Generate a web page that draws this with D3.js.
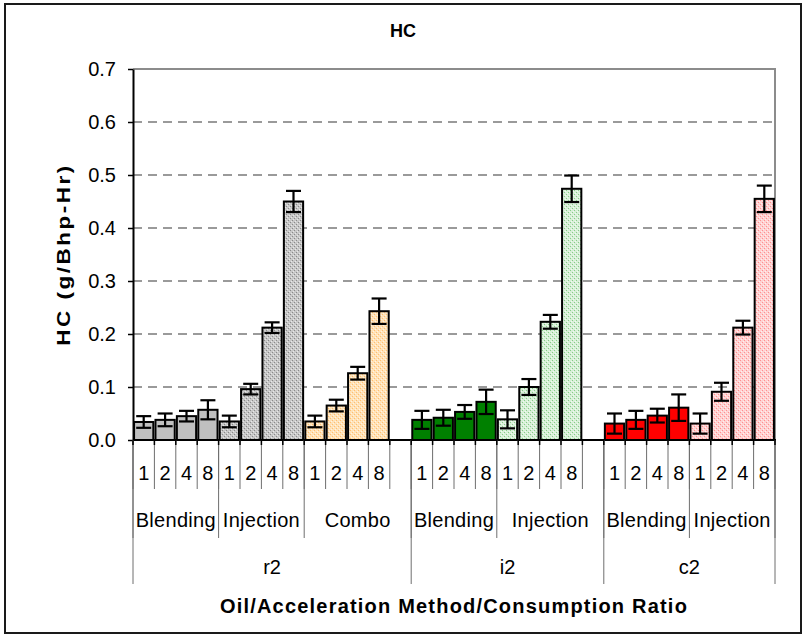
<!DOCTYPE html>
<html>
<head>
<meta charset="utf-8">
<script src="https://cdn.jsdelivr.net/npm/d3@7"></script>
<style>
  body { margin: 0; background: #fff; }
  text { font-family: Arial, "Liberation Sans", sans-serif; }
</style>
</head>
<body>
<svg id="chart" width="804" height="636"></svg>
<script>
// Values (HC in g/Bhp-Hr)
const oils = ["r2", "i2", "c2"]
const groupOil = ["r2", "r2", "r2", "i2", "i2", "c2", "c2"]
const groupMethod = ["Blending", "Injection", "Combo", "Blending", "Injection", "Blending", "Injection"]
const ratios = ["1", "2", "4", "8"]
// Excel left an empty category after these groups
const blankGroups = ["r2|Combo", "i2|Injection"]
const hcMean = [
  [0.034, 0.038, 0.045, 0.057],
  [0.035, 0.096, 0.212, 0.450],
  [0.035, 0.065, 0.126, 0.243],
  [0.038, 0.042, 0.053, 0.072],
  [0.039, 0.100, 0.223, 0.474],
  [0.031, 0.038, 0.046, 0.061],
  [0.031, 0.091, 0.212, 0.455]
]
const hcErr = [
  [0.011, 0.012, 0.010, 0.018],
  [0.011, 0.010, 0.010, 0.020],
  [0.011, 0.011, 0.012, 0.024],
  [0.017, 0.015, 0.013, 0.023],
  [0.017, 0.015, 0.013, 0.025],
  [0.019, 0.017, 0.013, 0.025],
  [0.019, 0.017, 0.013, 0.025]
]
const yTicks = [0, 0.1, 0.2, 0.3, 0.4, 0.5, 0.6, 0.7]

const groupFill = ["#c0c0c0", "url(#dotGray)", "url(#dotPeach)", "#008000", "url(#dotGreen)", "#ff0000", "url(#dotPink)"]

const svg = d3.select("#chart")
const plotLeft = 133, plotRight = 775, plotTop = 69, plotBottom = 440

// build category list (with the blank slots)
const cats = []
groupMethod.forEach((m, g) => {
  ratios.forEach((r, i) => cats.push({key: g + "-" + r, g: g, ratio: r, v: hcMean[g][i], e: hcErr[g][i]}))
  if (blankGroups.includes(groupOil[g] + "|" + m)) cats.push({key: g + "-blank", g: g, ratio: "", v: null})
})

const x = d3.scaleBand()
  .domain(cats.map(d => d.key))
  .range([plotLeft, plotRight])
  .paddingInner(0.1)
  .paddingOuter(0.05)
const step = x.step()
const slotLeft = key => x(key) - step * x.paddingInner() / 2

const y = d3.scaleLinear().domain([0, 0.7]).range([plotBottom, plotTop])

// patterns for the injection / combo bars
const defs = svg.append("defs")
const patterns = [
  {id: "dotGray", bg: "#c8c8c8", dot: "#8a8a8a", hi: "#e8e8e8"},
  {id: "dotPeach", bg: "#ffe2b8", dot: "#ffbf70", hi: "#fff4e4"},
  {id: "dotGreen", bg: "#d8f0d8", dot: "#88cc88", hi: "#f2fbf2"},
  {id: "dotPink", bg: "#ffd2d2", dot: "#ff9090", hi: "#fff0f0"}
]
patterns.forEach(p => {
  const pat = defs.append("pattern").attr("id", p.id)
    .attr("patternUnits", "userSpaceOnUse").attr("width", 4).attr("height", 4)
  pat.append("rect").attr("width", 4).attr("height", 4).attr("fill", p.bg)
  pat.append("rect").attr("x", 0).attr("y", 0).attr("width", 1).attr("height", 1).attr("fill", p.dot)
  pat.append("rect").attr("x", 2).attr("y", 2).attr("width", 1).attr("height", 1).attr("fill", p.dot)
  pat.append("rect").attr("x", 1).attr("y", 3).attr("width", 1).attr("height", 1).attr("fill", p.hi)
  pat.append("rect").attr("x", 3).attr("y", 1).attr("width", 1).attr("height", 1).attr("fill", p.hi)
})

// outer chart frame
svg.append("rect")
  .attr("x", 5).attr("y", 4).attr("width", 796).attr("height", 629)
  .attr("fill", "#fff").attr("stroke", "#1a1a1a").attr("stroke-width", 2)

// title
svg.append("text")
  .attr("x", 403).attr("y", 37)
  .attr("text-anchor", "middle")
  .style("font-size", "18px").style("font-weight", "bold")
  .text("HC")

// dashed gridlines
svg.append("g")
  .selectAll("line")
  .data(yTicks.filter(t => t > 0 && t < 0.7))
  .join("line")
  .attr("x1", plotLeft).attr("x2", plotRight)
  .attr("y1", d => y(d)).attr("y2", d => y(d))
  .attr("stroke", "#7a7a7a").attr("stroke-width", 1.5)
  .attr("stroke-dasharray", "9,6")

// plot border (top and right)
svg.append("path")
  .attr("d", `M${plotLeft},${plotTop}H${plotRight}V${plotBottom}`)
  .attr("fill", "none").attr("stroke", "#8c8c8c").attr("stroke-width", 2)

// bars
const bars = cats.filter(d => d.v !== null)
svg.append("g")
  .selectAll("rect")
  .data(bars)
  .join("rect")
  .attr("x", d => x(d.key))
  .attr("width", x.bandwidth())
  .attr("y", d => y(d.v))
  .attr("height", d => y(0) - y(d.v))
  .attr("fill", d => groupFill[d.g])
  .attr("stroke", "#000").attr("stroke-width", 2)

// error bars
const eb = svg.append("g").attr("stroke", "#000").attr("stroke-width", 2.2)
eb.selectAll("line.v")
  .data(bars)
  .join("line").attr("class", "v")
  .attr("x1", d => x(d.key) + x.bandwidth() / 2).attr("x2", d => x(d.key) + x.bandwidth() / 2)
  .attr("y1", d => y(d.v + d.e)).attr("y2", d => y(d.v - d.e))
eb.selectAll("line.cap")
  .data(bars.flatMap(d => [{d: d, v: d.v + d.e}, {d: d, v: d.v - d.e}]))
  .join("line").attr("class", "cap")
  .attr("x1", c => x(c.d.key) + x.bandwidth() / 2 - 7.5).attr("x2", c => x(c.d.key) + x.bandwidth() / 2 + 7.5)
  .attr("y1", c => y(c.v)).attr("y2", c => y(c.v))

// y axis
const yAxis = svg.append("g")
  .attr("transform", `translate(${plotLeft},0)`)
  .call(d3.axisLeft(y).tickValues(yTicks).tickFormat(d3.format(".1f")).tickSize(5).tickSizeOuter(0))
yAxis.select(".domain").attr("stroke", "#000").attr("stroke-width", 2)
yAxis.selectAll(".tick line").attr("stroke", "#000").attr("stroke-width", 1.5)
yAxis.selectAll(".tick text")
  .attr("x", -17)
  .style("font-size", "20px").style("font-family", "Arial, 'Liberation Sans', sans-serif")
  .attr("fill", "#000")

// y axis title
svg.append("text")
  .attr("transform", `translate(70,${(plotTop + plotBottom) / 2}) rotate(-90) scale(1.25,1)`)
  .attr("text-anchor", "middle")
  .style("font-size", "18px").style("font-weight", "bold")
  .style("letter-spacing", "2px")
  .text("HC (g/Bhp-Hr)")

// x baseline
svg.append("line")
  .attr("x1", plotLeft).attr("x2", plotRight + 1)
  .attr("y1", plotBottom).attr("y2", plotBottom)
  .attr("stroke", "#000").attr("stroke-width", 2)

// multi-level category axis
const lvl1Bottom = 489, lvl2Bottom = 538, lvl3Bottom = 584
const sepColor = "#6e6e6e"
const axisG = svg.append("g")

// separators between every slot
const boundaries = cats.map(d => slotLeft(d.key)).concat([plotRight])
axisG.selectAll("line.s1")
  .data(boundaries)
  .join("line").attr("class", "s1")
  .attr("x1", d => d).attr("x2", d => d)
  .attr("y1", plotBottom).attr("y2", lvl1Bottom)
  .attr("stroke", sepColor).attr("stroke-width", 1)

// method group extents
const groups = groupMethod.map((m, g) => {
  const keys = cats.filter(c => c.g === g).map(c => c.key)
  return {g: g, label: m, oil: groupOil[g], x0: slotLeft(keys[0]), x1: slotLeft(keys[keys.length - 1]) + step}
})
axisG.selectAll("line.s2")
  .data(groups.map(d => d.x0).concat([plotRight]))
  .join("line").attr("class", "s2")
  .attr("x1", d => d).attr("x2", d => d)
  .attr("y1", plotBottom).attr("y2", lvl2Bottom)
  .attr("stroke", sepColor).attr("stroke-width", 1)

// oil extents
const oilSpans = oils.map(o => {
  const gs = groups.filter(d => d.oil === o)
  return {label: o, x0: gs[0].x0, x1: gs[gs.length - 1].x1}
})
axisG.selectAll("line.s3")
  .data(oilSpans.map(d => d.x0).concat([plotRight]))
  .join("line").attr("class", "s3")
  .attr("x1", d => d).attr("x2", d => d)
  .attr("y1", plotBottom).attr("y2", lvl3Bottom)
  .attr("stroke", sepColor).attr("stroke-width", 1)

// small black ticks under baseline
axisG.selectAll("line.t")
  .data(boundaries)
  .join("line").attr("class", "t")
  .attr("x1", d => d).attr("x2", d => d)
  .attr("y1", plotBottom).attr("y2", plotBottom + 5)
  .attr("stroke", "#000").attr("stroke-width", 1.5)

axisG.selectAll("text.r")
  .data(cats.filter(d => d.ratio !== ""))
  .join("text").attr("class", "r")
  .attr("x", d => x(d.key) + x.bandwidth() / 2)
  .attr("y", 480)
  .attr("text-anchor", "middle")
  .style("font-size", "20px")
  .text(d => d.ratio)

axisG.selectAll("text.m")
  .data(groups)
  .join("text").attr("class", "m")
  .attr("x", d => (d.x0 + d.x1) / 2)
  .attr("y", 527)
  .attr("text-anchor", "middle")
  .style("font-size", "20px").style("letter-spacing", "0.3px")
  .text(d => d.label)

axisG.selectAll("text.o")
  .data(oilSpans)
  .join("text").attr("class", "o")
  .attr("x", d => (d.x0 + d.x1) / 2)
  .attr("y", 574)
  .attr("text-anchor", "middle")
  .style("font-size", "20px")
  .text(d => d.label)

// x axis title
svg.append("text")
  .attr("x", (plotLeft + plotRight) / 2).attr("y", 613)
  .attr("text-anchor", "middle")
  .style("font-size", "20px").style("font-weight", "bold")
  .style("letter-spacing", "1.2px")
  .text("Oil/Acceleration Method/Consumption Ratio")
</script>
</body>
</html>
